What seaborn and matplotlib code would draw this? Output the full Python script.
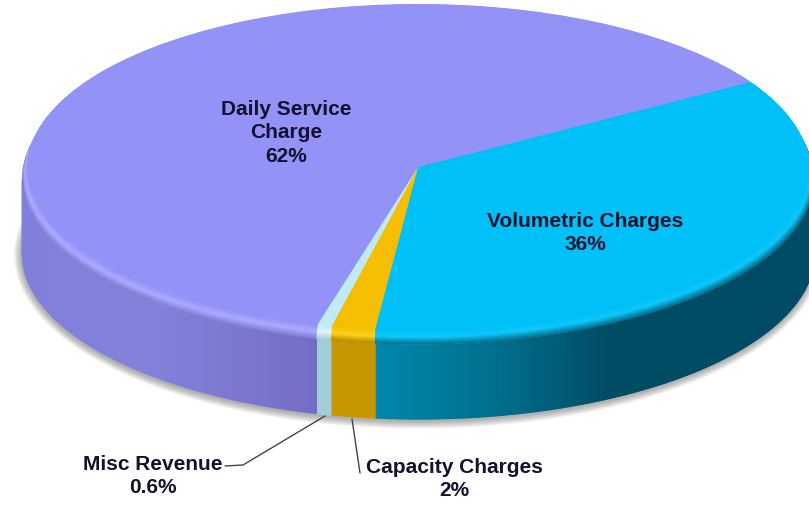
import numpy as np
import matplotlib
matplotlib.use("Agg")
import matplotlib.pyplot as plt
from matplotlib.patches import Ellipse
import seaborn as sns

sns.set_theme(style="white")
plt.rcParams['font.family'] = ['Liberation Sans', 'DejaVu Sans']

categories = ["Volumetric Charges", "Capacity Charges", "Misc Revenue", "Daily Service\nCharge"]
shares = [35.5, 1.8, 0.6, 62.1]
share_labels = ["36%", "2%", "0.6%", "62%"]

top_colors = ["#00C0F8", "#F5BE00", "#BEEBF5", "#9292F7"]
mid_colors = ["#10C6FA", "#FFD21E", "#DDF6FA", "#ABABFF"]
low_colors = ["#00708E", "#B48C00", "#A0CDD7", "#7E7ED6"]
palette = sns.color_palette(top_colors)

W, H = 809, 506
CX, CY, RX, RY = 418, 168, 396, 165.5
BEVEL, DEPTH = 12, 74
START = 31.5

def X(px):
    return (px - CX) / RX

def Y(py):
    return (CY - py) / RY

def rgb(c):
    return np.array(matplotlib.colors.to_rgb(c))

fig = plt.figure(figsize=(W / 100, H / 100), dpi=100)
ax = fig.add_axes([0, 0, 1, 1])

# soft ground shadow
for k in range(8, 0, -1):
    ax.add_patch(Ellipse((0, Y(CY + BEVEL + DEPTH + 2)), 2 + 2 * k / RX, 2 + 2 * k / RY,
                         color="#555555", alpha=0.07, lw=0, zorder=1))

# side wall: vertical strips whose extent comes from the slice shares
frac = np.array(shares) / sum(shares)
edges = START - 360 * np.concatenate([[0], np.cumsum(frac)])
side_x = [22, 150, 300, 320, 375, 500, 610, 810]
side_shade = {
    0: [(0, 135, 172)] * 5 + [(0, 110, 140), (0, 76, 100), (0, 76, 100)],
    1: [(200, 150, 0)] * 8,
    2: [(160, 205, 215)] * 8,
    3: [(128, 128, 218), (130, 130, 218), (118, 112, 200)] + [(115, 105, 195)] * 5,
}
for i in range(len(shares)):
    hi, lo = edges[i], edges[i + 1]
    for off in (0, 360):
        a, b = max(lo + off, -180), min(hi + off, 0)
        if b <= a:
            continue
        th = np.radians(np.linspace(a, b, 1 + max(2, int((b - a) / 0.4))))
        for t0, t1 in zip(th[:-1], th[1:]):
            x = np.cos([t0, t1])
            y = np.sin([t0, t1]) - BEVEL / RY
            px = CX + RX * x.mean()
            col = [np.interp(px, side_x, [s[c] for s in side_shade[i]]) / 255 for c in range(3)]
            ax.fill_between(x, y, y - DEPTH / RY, color=col, lw=0.9, antialiased=False, zorder=2)

# rounded rim, then the top face
for k in range(BEVEL * 2, -1, -1):
    t = k / (BEVEL * 2)
    cols = []
    for i in range(len(shares)):
        if t < 0.5:
            c = rgb(top_colors[i]) + (rgb(mid_colors[i]) - rgb(top_colors[i])) * t / 0.5
        else:
            c = rgb(mid_colors[i]) + (rgb(low_colors[i]) - rgb(mid_colors[i])) * (t - 0.5) / 0.5
        cols.append(c)
    ax.pie(shares, colors=cols, startangle=START, counterclock=False,
           radius=0.985 + 0.015 * t, center=(0, -t * BEVEL / RY),
           wedgeprops=dict(lw=0.3, edgecolor="none"), frame=True)

ax.set_aspect("auto")
ax.set_xlim(X(0), X(W))
ax.set_ylim(Y(H), Y(0))
ax.set_xticks([])
ax.set_yticks([])
for s in ax.spines.values():
    s.set_visible(False)

# labels
font = dict(ha="center", va="center", fontsize=15, fontweight="bold", color="#12122E",
            linespacing=1.3, zorder=10)
label_at = [(585, 233), (454, 479), (153, 476), (286, 133)]
for name, lab, (lx, ly) in zip(categories, share_labels, label_at):
    ax.text(X(lx), Y(ly), f"{name}\n{lab}", **font)

# leader lines
ax.plot([X(225), X(243), X(325)], [Y(467), Y(466), Y(417)], color="#444444", lw=1, zorder=9)
ax.plot([X(352), X(360)], [Y(420), Y(474)], color="#444444", lw=1, zorder=9)

fig.savefig("out.png", dpi=100, facecolor="white")
